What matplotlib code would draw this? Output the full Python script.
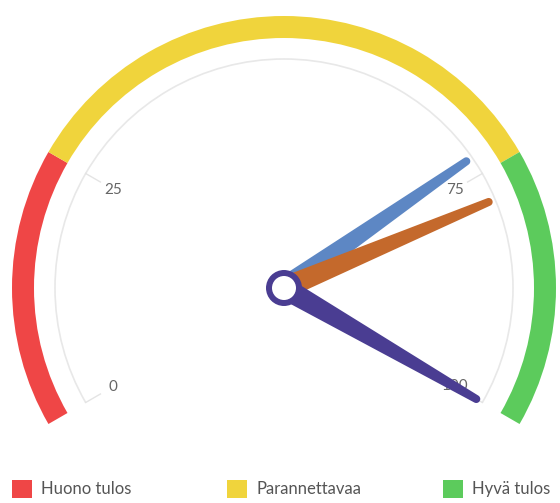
import numpy as np
import matplotlib
matplotlib.use("Agg")
import matplotlib.pyplot as plt
from matplotlib.patches import Wedge, Polygon, Circle, Rectangle, Arc

# gauge data
band_names = ["Huono tulos", "Parannettavaa", "Hyvä tulos"]
band_limits = [0, 25, 75, 100]
band_colors = ["#ef4646", "#f0d43c", "#5ccb5c"]
tick_values = [0, 25, 75, 100]
needle_values = [73, 78, 100]
needle_colors = ["#5d87c4", "#c4692c", "#4a3d92"]

START, END = 210.0, -30.0
CX, CY = 284, 503 - 288


def ang(v):
    return START + (END - START) * v / 100.0


def needle(ax, v, color, length=222, w0=22, w1=8):
    a = np.deg2rad(ang(v))
    d = np.array([np.cos(a), np.sin(a)])
    n = np.array([-d[1], d[0]])
    c = np.array([CX, CY])
    tip = c + d * length
    pts = [c + n * w0 / 2, tip + n * w1 / 2]
    for t in np.linspace(np.pi / 2, -np.pi / 2, 15):
        pts.append(tip + (np.cos(t) * d + np.sin(t) * n) * w1 / 2)
    pts += [tip - n * w1 / 2, c - n * w0 / 2]
    ax.add_patch(Polygon(pts, closed=True, color=color, lw=0, zorder=5))


fig = plt.figure(figsize=(5.6, 5.03), dpi=100)
ax = fig.add_axes([0, 0, 1, 1])
ax.set_xlim(0, 560)
ax.set_ylim(0, 503)
ax.axis("off")

# coloured bands
for i, col in enumerate(band_colors):
    a1, a2 = ang(band_limits[i + 1]), ang(band_limits[i])
    ax.add_patch(Wedge((CX, CY), 272, a1, a2, width=22, color=col, lw=0, zorder=2))

# thin grey scale arc
ax.add_patch(Arc((CX, CY), 458, 458, theta1=END, theta2=START, color="#e8e8e8", lw=1.2, zorder=1))

for v in tick_values:
    a = np.deg2rad(ang(v))
    ax.plot([CX + 212 * np.cos(a), CX + 229 * np.cos(a)],
            [CY + 212 * np.sin(a), CY + 229 * np.sin(a)], color="#e4e4e4", lw=1, zorder=1)
    ax.text(CX + 197 * np.cos(a), CY + 197 * np.sin(a), str(v), ha="center", va="center",
            fontsize=11, color="#666666", family="Lato", zorder=3)

for v, col in zip(needle_values, needle_colors):
    needle(ax, v, col)

ax.add_patch(Circle((CX, CY), 18, color=needle_colors[-1], lw=0, zorder=6))
ax.add_patch(Circle((CX, CY), 12, color="white", lw=0, zorder=7))

# legend
leg_x = [12, 227, 443]
for x, name, col in zip(leg_x, band_names, band_colors):
    ax.add_patch(Rectangle((x, 503 - 498), 20, 18, color=col, lw=0))
    ax.text(x + 29, 503 - 489, name, ha="left", va="center", fontsize=12,
            color="#555555", family="Lato")

fig.savefig("out.png", dpi=100)
